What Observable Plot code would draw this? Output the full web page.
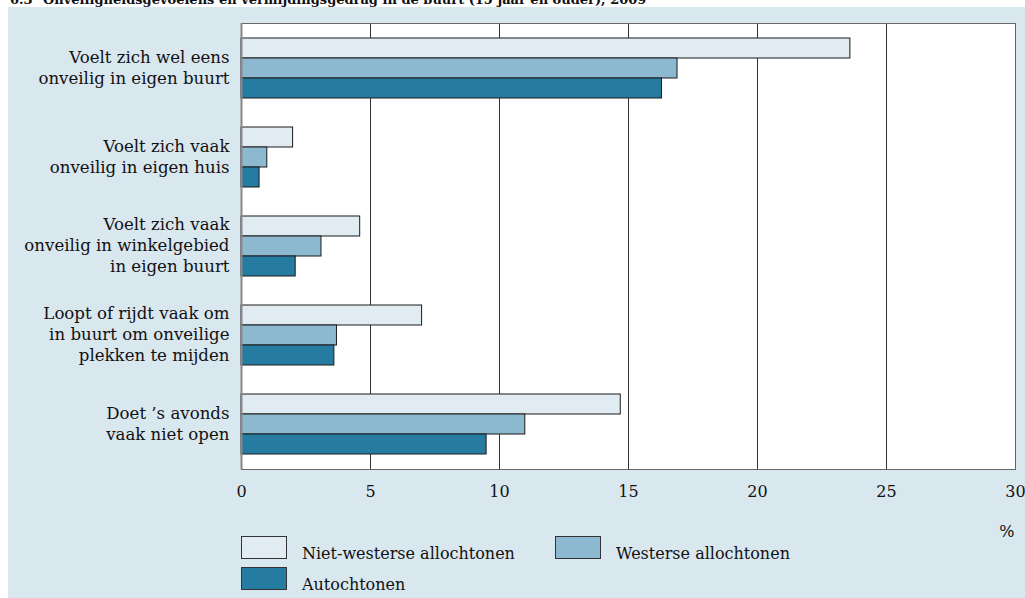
<!DOCTYPE html>
<html>
<head>
<meta charset="utf-8">
<script src="https://cdn.jsdelivr.net/npm/d3@7"></script>
<script src="https://cdn.jsdelivr.net/npm/@observablehq/plot@0.6"></script>
<style>
  html, body { margin: 0; padding: 0; background: #ffffff; }
  body { width: 1025px; height: 598px; position: relative; overflow: hidden; font-family: "DejaVu Serif", serif; }
  #title { position: absolute; top: -8px; left: 0; width: 1025px; height: 16px; line-height: 16px; font-size: 13px; font-weight: bold; color: #111; white-space: nowrap; }
  #title .num { position: absolute; left: 10px; }
  #title .txt { position: absolute; left: 43px; }
  #panel { position: absolute; left: 8px; top: 7px; width: 1017px; height: 591px; background: #d9e7ef; }
  #chart { position: absolute; left: 0; top: 0; }
  .sw { position: absolute; width: 44px; height: 21px; border: 1px solid #333; }
  .lt { position: absolute; font-size: 16px; line-height: 20px; color: #111; white-space: nowrap; }
</style>
</head>
<body>
<div id="title"><span class="num">6.3</span><span class="txt">Onveiligheidsgevoelens en vermijdingsgedrag in de buurt (15 jaar en ouder), 2009</span></div>
<div id="panel"><div id="chart"></div></div>
<script>
// ---- data ----
const categories = [
  "Voelt zich wel eens\nonveilig in eigen buurt",
  "Voelt zich vaak\nonveilig in eigen huis",
  "Voelt zich vaak\nonveilig in winkelgebied\nin eigen buurt",
  "Loopt of rijdt vaak om\nin buurt om onveilige\nplekken te mijden",
  "Doet ’s avonds\nvaak niet open"
];
const series = ["Niet-westerse allochtonen", "Westerse allochtonen", "Autochtonen"];
const nietWesters = [23.6, 2.0, 4.6, 7.0, 14.7];
const westers = [16.9, 1.0, 3.1, 3.7, 11.0];
const autochtonen = [16.3, 0.7, 2.1, 3.6, 9.5];
const xTicks = [0, 5, 10, 15, 20, 25, 30];
const colors = ["#e1ecf2", "#8cb9cf", "#267ba1"];

const seriesValues = [nietWesters, westers, autochtonen];
const rows = [];
series.forEach((s, si) => categories.forEach((c, ci) => rows.push({series: s, category: c, value: seriesValues[si][ci]})));

// bar slot inside each category band (60px band, 20px per bar)
const insets = [[0, 40], [20, 20], [40, 0]];

const marks = [
  Plot.frame({fill: "white", stroke: null}),
  Plot.gridX(xTicks, {stroke: "#333", strokeOpacity: 1, strokeWidth: 1}),
  ...series.map((s, si) => Plot.barX(rows.filter(d => d.series === s), {
    x: "value", y: "category", fill: "series",
    stroke: "#1a1a1a", strokeWidth: 1,
    insetTop: insets[si][0], insetBottom: insets[si][1]
  })),
  Plot.frame({stroke: "#666", strokeWidth: 1}),
  Plot.ruleX([0], {stroke: "#888", strokeWidth: 2}),
  Plot.axisX({ticks: xTicks, tickSize: 0, tickPadding: 16, fontSize: 16, label: null, fill: "#111"}),
  Plot.text(categories, {
    y: d => d, text: d => d, frameAnchor: "left", textAnchor: "end",
    dx: -12, dy: -2, lineHeight: 1.27, fontSize: 16.6, fill: "#111"
  }),
  Plot.text(["%"], {text: d => d, frameAnchor: "bottom-right", textAnchor: "end", lineAnchor: "bottom", dy: 67, dx: -1, fontSize: 16, fill: "#111"})
];

const chart = Plot.plot({
  width: 1017,
  height: 535,
  marginLeft: 233,
  marginRight: 10,
  marginTop: 16,
  marginBottom: 73,
  style: {fontFamily: "DejaVu Serif", fontSize: "16px", background: "transparent", overflow: "visible"},
  x: {domain: [0, 30], axis: null},
  y: {domain: categories, paddingInner: 0.328, paddingOuter: 0.164, axis: null},
  color: {domain: series, range: colors},
  marks
});
document.getElementById("chart").appendChild(chart);

// ---- legend ----
const legendPos = [[233, 529], [547, 529], [233, 560]];
const panel = document.getElementById("panel");
series.forEach((s, i) => {
  const sw = document.createElement("div");
  sw.className = "sw";
  sw.style.left = legendPos[i][0] + "px";
  sw.style.top = legendPos[i][1] + "px";
  sw.style.background = colors[i];
  panel.appendChild(sw);
  const t = document.createElement("div");
  t.className = "lt";
  t.textContent = s;
  t.style.left = (legendPos[i][0] + 61) + "px";
  t.style.top = (legendPos[i][1] + 8) + "px";
  panel.appendChild(t);
});
</script>
</body>
</html>
